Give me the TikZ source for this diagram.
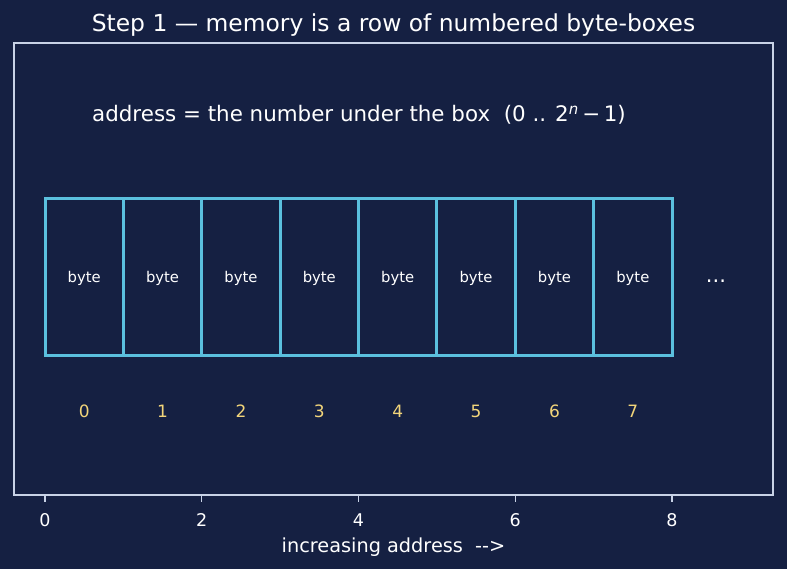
\documentclass[tikz,border=0pt]{standalone}
\usepackage{fontspec}
\setmainfont{DejaVu Sans}
\definecolor{bg}{HTML}{152042}
\definecolor{framec}{HTML}{C8D2E6}
\definecolor{cellc}{HTML}{5BC0DE}
\definecolor{numc}{HTML}{F2D57A}
\begin{document}
\begin{tikzpicture}[x=1pt,y=-1pt,
  lbl/.style={text=white,inner sep=0pt,anchor=center},
  cell/.style={minimum width=78.375pt,minimum height=156pt,inner sep=0pt,outer sep=0pt},
  celltext/.style={text=white,inner sep=0pt,font=\fontsize{14.8}{17}\selectfont},
  cellline/.style={draw=cellc,line width=3pt},
  idx/.style={text=numc,inner sep=0pt,font=\fontsize{17}{20}\selectfont},
  tick/.style={draw=framec,line width=1.3pt},
  ticklbl/.style={text=white,inner sep=0pt,font=\fontsize{17.5}{20}\selectfont}]
\fill[bg] (0,0) rectangle (787,569);
\useasboundingbox (0,0) rectangle (787,569);
\node[lbl,font=\fontsize{23.4}{27}\selectfont] (title) at (393.5,25) {Step 1 — memory is a row of numbered byte-boxes};
\draw[framec,line width=1.5pt] (14,43) rectangle (773,495);
\node[lbl,anchor=west,font=\fontsize{21.4}{25}\selectfont] (addr) at (92,115) {address = the number under the box\ \ (0 .. 2\textsuperscript{\itshape n}\,−\,1)};
\foreach \i in {0,...,7}{
  \node[cell] (c\i) at ({45+78.375*(\i+0.5)},277) {};
  \node[celltext] (b\i) at ({45+78.375*(\i+0.5)},278.5) {byte};
  \node[idx] (n\i) at ({45+78.375*(\i+0.5)},411) {\i};
}
\draw[cellline] (c0.north west) rectangle (c7.south east);
\foreach \i in {0,...,6}{
  \draw[cellline] (c\i.north east) -- (c\i.south east);
}
\node[lbl,font=\fontsize{21}{24}\selectfont] (dots) at (716,281) {...};
\foreach \k in {0,2,4,6,8}{
  \coordinate (t\k) at ({45+78.375*\k},495);
  \coordinate (tb\k) at ({45+78.375*\k},502);
  \draw[tick] (t\k) -- (tb\k);
  \node[ticklbl] (tl\k) at ({45+78.375*\k},520) {\k};
}
\node[lbl,font=\fontsize{19.3}{23}\selectfont] (xlab) at (393.5,547) {increasing address\ \ -{}->};
\end{tikzpicture}
\end{document}
